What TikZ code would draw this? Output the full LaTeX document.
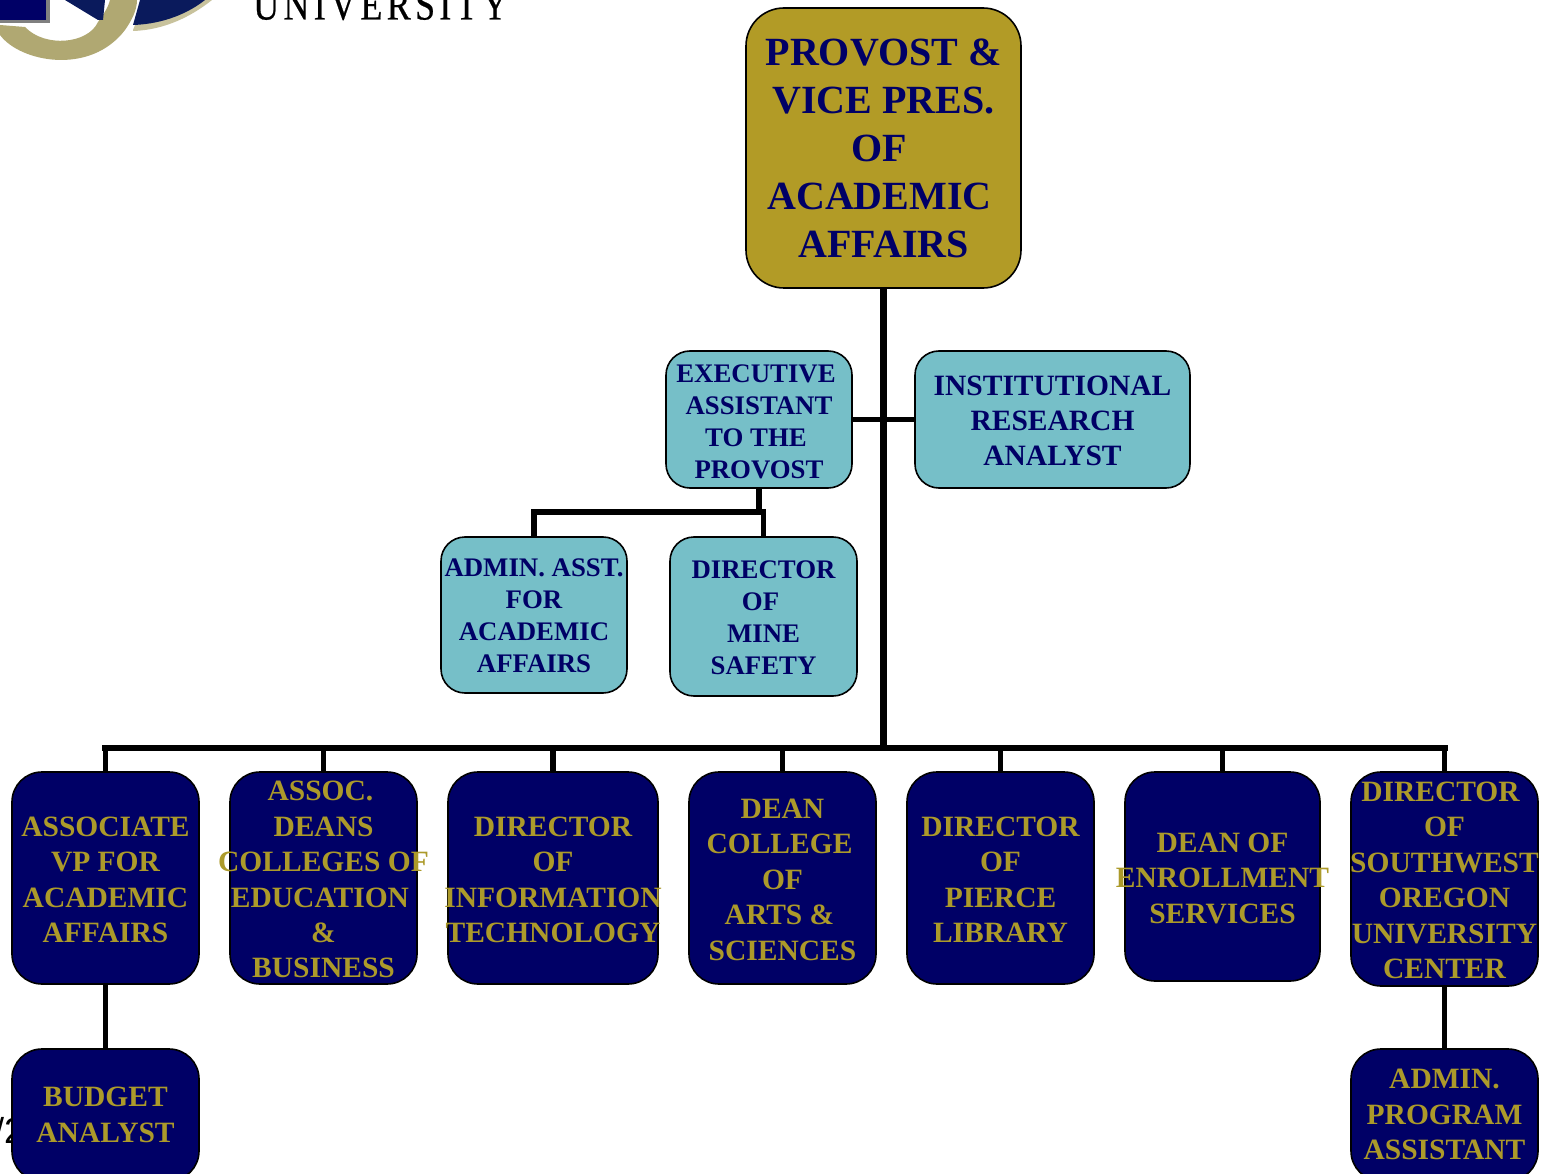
\documentclass[tikz,border=0pt]{standalone}
\usepackage{graphicx}
\usepackage{fontspec}
\setmainfont{Liberation Serif}
\setsansfont{Liberation Sans}
\newfontfamily\unifont[LetterSpace=12,FakeBold=0.6]{Liberation Serif}
\definecolor{navy}{HTML}{000066}
\definecolor{goldfill}{HTML}{B29B26}
\definecolor{goldtext}{HTML}{AC9A2A}
\definecolor{tealfill}{HTML}{76BFC8}
\definecolor{ringgold}{HTML}{B0A872}
\definecolor{logoblue}{HTML}{0A1A5C}
\newcommand\wide[2][0]{\setbox0=\hbox{\parbox[c]{500pt}{\centering #2}}\raisebox{\dimexpr #1pt-(\ht0-\dp0)/2\relax}[0pt][0pt]{\makebox[0pt]{\box0}}}
\newcommand\sh[1]{\hspace*{#1pt}}
\tikzset{
  box/.style={draw=black,line width=1.6pt,inner sep=0pt,font=\bfseries},
  topbox/.style={box,fill=goldfill,text=navy,rounded corners=38pt,font=\bfseries\fontsize{40}{48}\selectfont},
  tealbox/.style={box,fill=tealfill,text=navy,rounded corners=24pt},
  small/.style={font=\bfseries\fontsize{26.8}{32}\selectfont},
  mid/.style={font=\bfseries\fontsize{29.5}{35.4}\selectfont},
  navybox/.style={box,fill=navy,text=goldtext,rounded corners=30pt,mid},
  conn/.style={draw=black,line width=6.5pt,line cap=rect},
  thinconn/.style={draw=black,line width=5.5pt,line cap=butt,line join=miter},
}
\begin{document}
\begin{tikzpicture}[x=1pt,y=-1pt]
\clip (0,0) rectangle (1545,1174);
\useasboundingbox (0,0) rectangle (1545,1174);
\fill[white] (0,0) rectangle (1545,1174);
% cropped logo
\fill[ringgold!70!white] (133,30) -- (145,0) -- (212,0) .. controls (192,16) and (165,30) .. (133,31) -- cycle;
\fill[logoblue] (133,25) -- (140,0) -- (205,0) .. controls (190,12) and (165,24) .. (133,25) -- cycle;
\fill[ringgold] (0,35) .. controls (20,62) and (90,76) .. (125,30) .. controls (132,20) and (137,10) .. (137,0) -- (110,0) .. controls (108,8) and (103,15) .. (98,22) .. controls (88,44) and (45,48) .. (25,27) -- (0,25) -- cycle;
\fill[logoblue] (65,0) -- (105,0) -- (103,20) -- (98,20) -- cycle;
\fill[gray] (0,0) rectangle (50,23);
\fill[navy] (0,0) rectangle (46,20);
\node[anchor=base west,inner sep=0pt,font=\unifont\fontsize{36}{36}\selectfont] (uni) at (253,19.5) {\scalebox{1}[1.2]{UNIVERSITY}};
\node[anchor=base west,inner sep=0pt,font=\sffamily\fontsize{36}{36}\selectfont] (pagemark) at (-6,1143) {/2};
% boxes
\node[topbox,minimum width=275pt,minimum height=280pt] (provost) at (883.5,148) {\wide[-7]{PROVOST \&\\VICE PRES.\\\sh{-9}OF\\\sh{-8}ACADEMIC\\AFFAIRS}};
\node[tealbox,small,minimum width=186pt,minimum height=137pt] (exec) at (759,419.5) {\wide[-8.5]{\sh{-6}EXECUTIVE\\ASSISTANT\\\sh{-6}TO THE\\PROVOST}};
\node[tealbox,mid,minimum width=275pt,minimum height=137pt] (inst) at (1052.5,419.5) {\wide[-7.5]{INSTITUTIONAL\\RESEARCH\\ANALYST}};
\node[tealbox,small,minimum width=186pt,minimum height=156pt] (adminasst) at (534,615) {\wide[-7]{ADMIN. ASST.\\FOR\\ACADEMIC\\AFFAIRS}};
\node[tealbox,small,minimum width=187pt,minimum height=159pt] (mine) at (763.5,616.5) {\wide[-7]{DIRECTOR\\\sh{-6}OF\\MINE\\SAFETY}};
\node[navybox,minimum width=187pt,minimum height=212pt] (assoc) at (105.5,878) {\wide[-8]{ASSOCIATE\\VP FOR\\ACADEMIC\\AFFAIRS}};
\node[navybox,minimum width=187pt,minimum height=212pt] (deans) at (323.5,878) {\wide[-8]{\sh{-6}ASSOC.\\DEANS\\COLLEGES OF\\\sh{-7}EDUCATION\\\&\\BUSINESS}};
\node[navybox,minimum width=210pt,minimum height=212pt] (infotech) at (553,878) {\wide[-8]{DIRECTOR\\OF\\INFORMATION\\TECHNOLOGY}};
\node[navybox,minimum width=187pt,minimum height=212pt] (artsci) at (782.5,878) {\wide[-8]{DEAN\\\sh{-6}COLLEGE\\OF\\\sh{-6}ARTS \&\\SCIENCES}};
\node[navybox,minimum width=187pt,minimum height=212pt] (pierce) at (1000.5,878) {\wide[-8]{DIRECTOR\\OF\\PIERCE\\LIBRARY}};
\node[navybox,minimum width=195pt,minimum height=209pt] (enroll) at (1222.5,876.5) {\wide[-8]{DEAN OF\\ENROLLMENT\\SERVICES}};
\node[navybox,minimum width=187pt,minimum height=214pt] (swou) at (1444.5,879) {\wide[-7.5]{\sh{-8}DIRECTOR\\OF\\SOUTHWEST\\OREGON\\UNIVERSITY\\CENTER}};
\node[navybox,minimum width=187pt,minimum height=132pt] (budget) at (105.5,1115) {\wide[-6]{BUDGET\\ANALYST}};
\node[navybox,minimum width=187pt,minimum height=132pt] (adminprog) at (1444.5,1115) {\wide[-6]{ADMIN.\\PROGRAM\\ASSISTANT}};
% connectors
\coordinate (bus) at (884,748);
\coordinate (split) at (759,512);
\draw[conn,line cap=butt,line width=7pt] (provost.south) -- (provost.south |- bus);
\draw[conn] (assoc.north |- bus) -- (swou.north |- bus);
\foreach \n in {assoc,deans,infotech,artsci,pierce,enroll,swou}
  \draw[conn,line cap=butt,line width=5.5pt] (\n.north) -- (\n.north |- bus);
\draw[thinconn] (exec.east) -- (inst.west);
\draw[thinconn] (exec.south) -- (split);
\draw[thinconn] (adminasst.north) -- (adminasst.north |- split) -- (mine.north |- split) -- (mine.north);
\draw[conn,line cap=butt,line width=5.5pt] (assoc.south) -- (budget.north);
\draw[conn,line cap=butt,line width=5.5pt] (swou.south) -- (adminprog.north);
\end{tikzpicture}
\end{document}
